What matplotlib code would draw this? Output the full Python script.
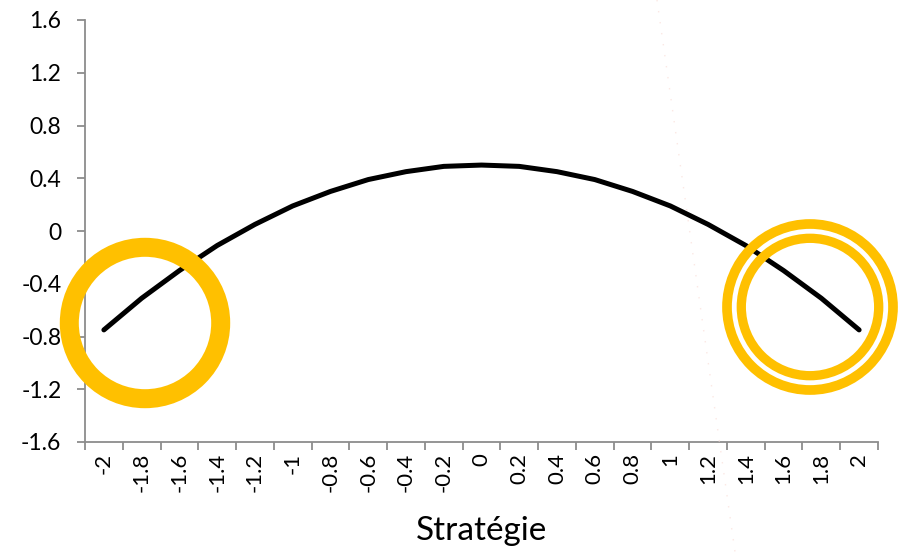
import numpy as np
import matplotlib.pyplot as plt
from matplotlib.patches import Circle

# data
strategie = ['-2', '-1.8', '-1.6', '-1.4', '-1.2', '-1', '-0.8', '-0.6', '-0.4', '-0.2', '0',
             '0.2', '0.4', '0.6', '0.8', '1', '1.2', '1.4', '1.6', '1.8', '2']
gain = [-0.75, -0.51, -0.30, -0.11, 0.05, 0.19, 0.30, 0.39, 0.45, 0.49, 0.50,
        0.49, 0.45, 0.39, 0.30, 0.19, 0.05, -0.11, -0.30, -0.51, -0.75]
y_ticks = [-1.6, -1.2, -0.8, -0.4, 0, 0.4, 0.8, 1.2, 1.6]

plt.rcParams['font.family'] = ['Lato', 'DejaVu Sans']

W, H = 898, 552
fig = plt.figure(figsize=(W / 100, H / 100), dpi=100)
ax = fig.add_axes([85 / W, 1 - 442 / H, (878 - 85) / W, (442 - 20) / H])

xpos = np.arange(len(strategie))
ax.plot(xpos, gain, color='black', lw=3.6, solid_capstyle='round', solid_joinstyle='round')

ax.set_xlim(-0.5, len(strategie) - 0.5)
ax.set_ylim(-1.6, 1.6)

grey = '#8c8c8c'
for s in ['top', 'right']:
    ax.spines[s].set_visible(False)
for s in ['left', 'bottom']:
    ax.spines[s].set_color(grey)
    ax.spines[s].set_linewidth(1.3)

# category axis: ticks between categories, labels in the middle
ax.set_xticks(np.arange(-0.5, len(strategie), 1.0))
ax.set_xticklabels([])
ax.set_xticks(xpos, minor=True)
ax.set_xticklabels(strategie, minor=True, rotation=90, fontsize=16)
ax.tick_params(axis='x', which='major', length=6, width=1.3, color=grey)
ax.tick_params(axis='x', which='minor', length=0, pad=8)

ax.set_yticks(y_ticks)
ax.set_yticklabels(['%g' % v for v in y_ticks], fontsize=16.5)
ax.tick_params(axis='y', length=6, width=1.3, color=grey, pad=11)

fig.text(482 / W, 1 - 531 / H, 'Stratégie', fontsize=24, ha='center', va='center')

# overlay in pixel coordinates for the highlight rings
ov = fig.add_axes([0, 0, 1, 1])
ov.set_xlim(0, W)
ov.set_ylim(H, 0)
ov.axis('off')
ov.patch.set_alpha(0)

gold = '#FFC000'
ov.add_patch(Circle((145, 323), 75.7, fill=False, ec=gold, lw=19 * 0.72))
ov.add_patch(Circle((810, 307), 83, fill=False, ec=gold, lw=9.7 * 0.72))
ov.add_patch(Circle((810, 307), 68.7, fill=False, ec=gold, lw=9.3 * 0.72))

# faint dotted stray line
ov.plot([657, 735], [0, 552], color='#fbe8e4', lw=1, ls=(0, (1, 7)))

fig.savefig('out.png', dpi=100)
